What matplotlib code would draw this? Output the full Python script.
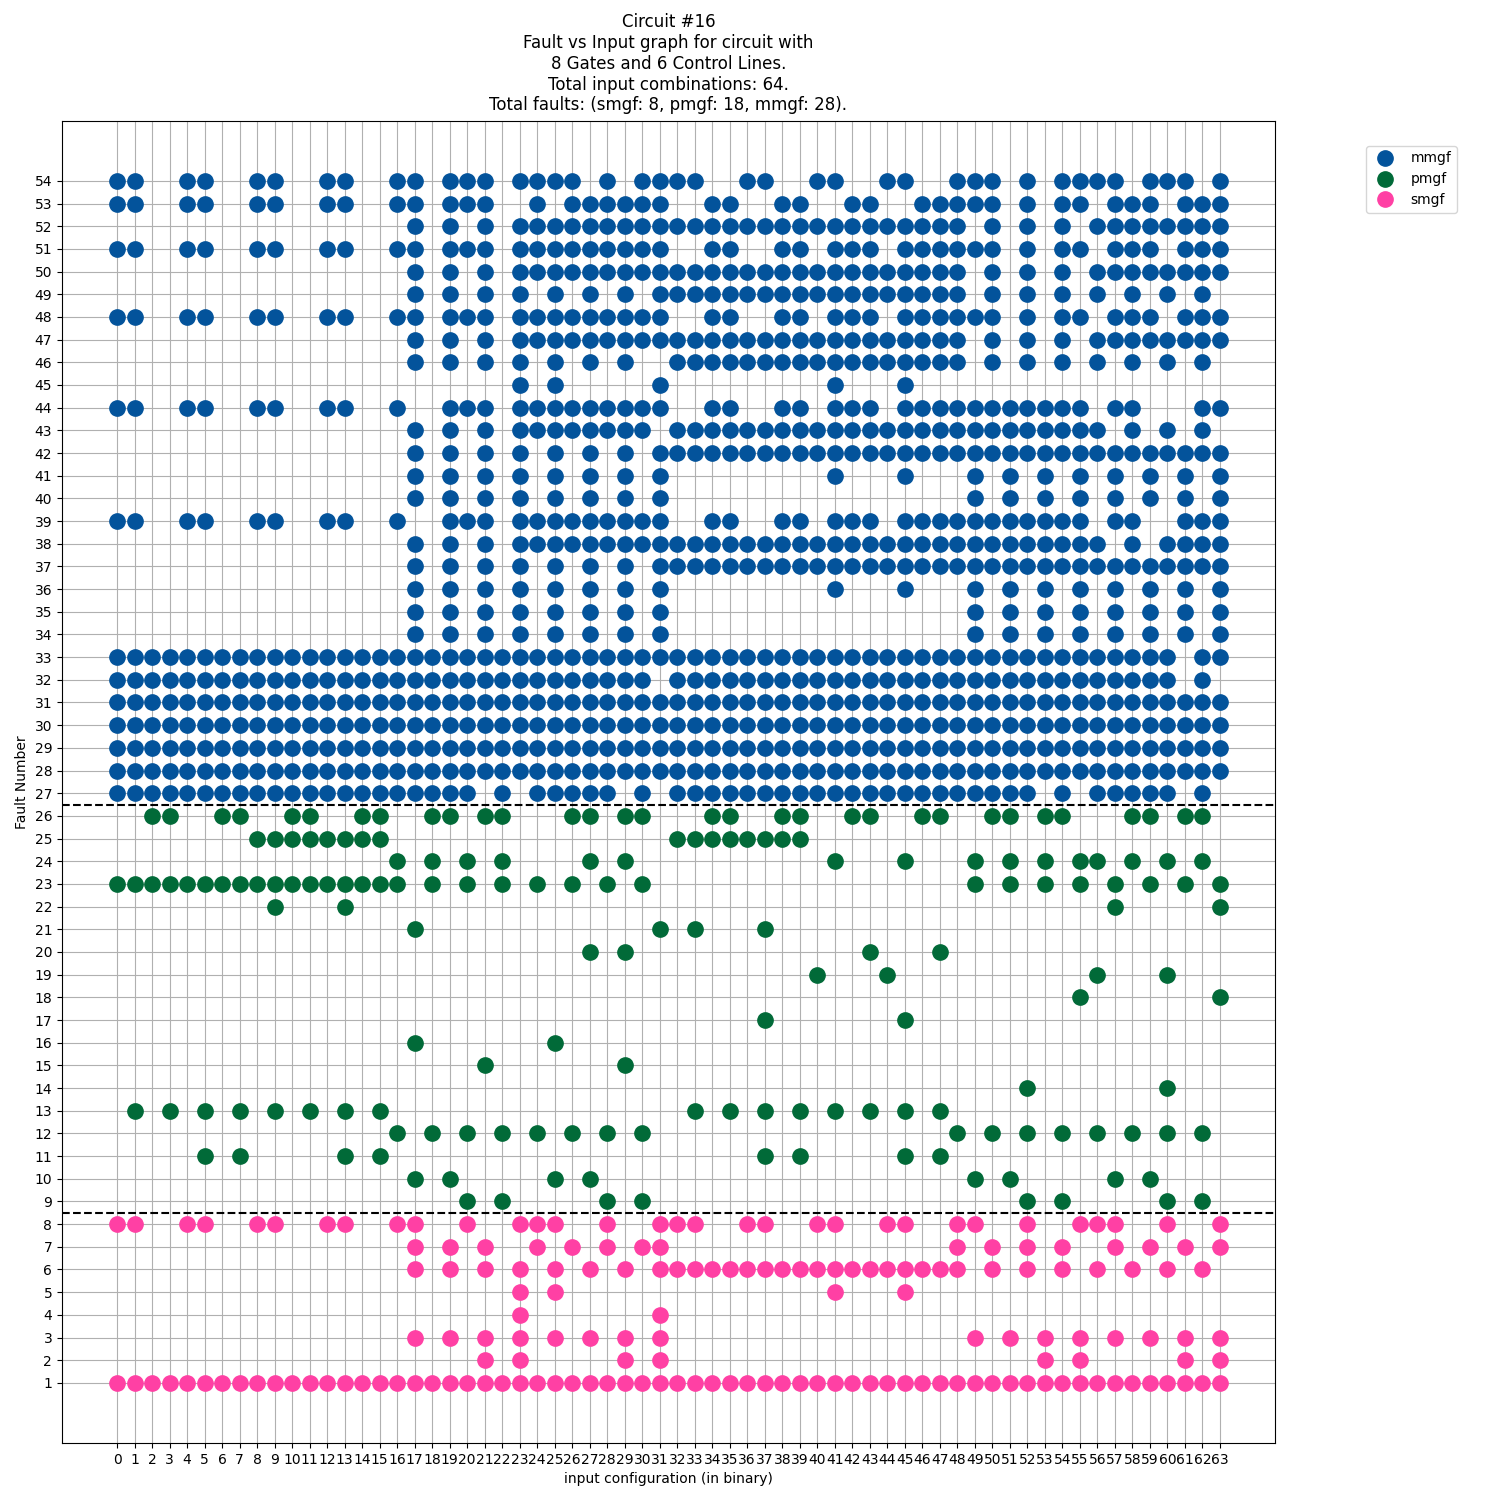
import matplotlib
matplotlib.use("Agg")
import matplotlib.pyplot as plt

# data: for each fault number, the input configurations where it is detected
# *******************
inputs = list(range(64))
faults = list(range(1, 55))

mmgf_faults = [54, 53, 52, 51, 50, 49, 48, 47, 46, 45, 44, 43, 42, 41,
               40, 39, 38, 37, 36, 35, 34, 33, 32, 31, 30, 29, 28, 27]
mmgf_inputs = [
    [0, 1, 4, 5, 8, 9, 12, 13, 16, 17, 19, 20, 21, 23, 24, 25, 26, 28, 30, 31, 32, 33, 36, 37, 40, 41, 44, 45, 48, 49, 50, 52, 54, 55, 56, 57, 59, 60, 61, 63],
    [0, 1, 4, 5, 8, 9, 12, 13, 16, 17, 19, 20, 21, 24, 26, 27, 28, 29, 30, 31, 34, 35, 38, 39, 42, 43, 46, 47, 48, 49, 50, 52, 54, 55, 57, 58, 59, 61, 62, 63],
    [17, 19, 21] + list(range(23, 49)) + [50, 52, 54] + list(range(56, 64)),
    [0, 1, 4, 5, 8, 9, 12, 13, 16, 17, 19, 20, 21] + list(range(23, 32)) + [34, 35, 38, 39, 41, 42, 43, 45, 46, 47, 48, 49, 50, 52, 54, 55, 57, 58, 59, 61, 62, 63],
    [17, 19, 21] + list(range(23, 49)) + [50, 52, 54] + list(range(56, 64)),
    [17, 19, 21, 23, 25, 27, 29] + list(range(31, 49)) + [50, 52, 54, 56, 58, 60, 62],
    [0, 1, 4, 5, 8, 9, 12, 13, 16, 17, 19, 20, 21] + list(range(23, 32)) + [34, 35, 38, 39, 41, 42, 43, 45, 46, 47, 48, 49, 50, 52, 54, 55, 57, 58, 59, 61, 62, 63],
    [17, 19, 21] + list(range(23, 49)) + [50, 52, 54] + list(range(56, 64)),
    [17, 19, 21, 23, 25, 27, 29] + list(range(32, 49)) + [50, 52, 54, 56, 58, 60, 62],
    [23, 25, 31, 41, 45],
    [0, 1, 4, 5, 8, 9, 12, 13, 16, 19, 20, 21] + list(range(23, 32)) + [34, 35, 38, 39, 41, 42, 43] + list(range(45, 56)) + [57, 58, 62, 63],
    [17, 19, 21] + list(range(23, 31)) + list(range(32, 57)) + [58, 60, 62],
    [17, 19, 21, 23, 25, 27, 29] + list(range(31, 64)),
    [17, 19, 21, 23, 25, 27, 29, 31, 41, 45, 49, 51, 53, 55, 57, 59, 61, 63],
    [17, 19, 21, 23, 25, 27, 29, 31, 49, 51, 53, 55, 57, 59, 61, 63],
    [0, 1, 4, 5, 8, 9, 12, 13, 16, 19, 20, 21] + list(range(23, 32)) + [34, 35, 38, 39, 41, 42, 43] + list(range(45, 56)) + [57, 58, 61, 62, 63],
    [17, 19, 21] + list(range(23, 57)) + [58, 60, 61, 62, 63],
    [17, 19, 21, 23, 25, 27, 29] + list(range(31, 64)),
    [17, 19, 21, 23, 25, 27, 29, 31, 41, 45, 49, 51, 53, 55, 57, 59, 61, 63],
    [17, 19, 21, 23, 25, 27, 29, 31, 49, 51, 53, 55, 57, 59, 61, 63],
    [17, 19, 21, 23, 25, 27, 29, 31, 49, 51, 53, 55, 57, 59, 61, 63],
    list(range(0, 61)) + [62, 63],
    list(range(0, 31)) + list(range(32, 61)) + [62],
    list(range(64)),
    list(range(64)),
    list(range(64)),
    list(range(64)),
    list(range(0, 21)) + [22] + list(range(24, 29)) + [30] + list(range(32, 53)) + [54] + list(range(56, 61)) + [62],
]

pmgf_faults = [26, 25, 24, 23, 22, 21, 20, 19, 18, 17, 16, 15, 14, 13, 12, 11, 10, 9]
pmgf_inputs = [
    [2, 3, 6, 7, 10, 11, 14, 15, 18, 19, 21, 22, 26, 27, 29, 30, 34, 35, 38, 39, 42, 43, 46, 47, 50, 51, 53, 54, 58, 59, 61, 62],
    [8, 9, 10, 11, 12, 13, 14, 15, 32, 33, 34, 35, 36, 37, 38, 39],
    [16, 18, 20, 22, 27, 29, 41, 45, 49, 51, 53, 55, 56, 58, 60, 62],
    list(range(0, 16)) + [16, 18, 20, 22, 24, 26, 28, 30, 49, 51, 53, 55, 57, 59, 61, 63],
    [9, 13, 57, 63],
    [17, 31, 33, 37],
    [27, 29, 43, 47],
    [40, 44, 56, 60],
    [55, 63],
    [37, 45],
    [17, 25],
    [21, 29],
    [52, 60],
    [1, 3, 5, 7, 9, 11, 13, 15, 33, 35, 37, 39, 41, 43, 45, 47],
    [16, 18, 20, 22, 24, 26, 28, 30, 48, 50, 52, 54, 56, 58, 60, 62],
    [5, 7, 13, 15, 37, 39, 45, 47],
    [17, 19, 25, 27, 49, 51, 57, 59],
    [20, 22, 28, 30, 52, 54, 60, 62],
]

smgf_faults = [8, 7, 6, 5, 4, 3, 2, 1]
smgf_inputs = [
    [0, 1, 4, 5, 8, 9, 12, 13, 16, 17, 20, 23, 24, 25, 28, 31, 32, 33, 36, 37, 40, 41, 44, 45, 48, 49, 52, 55, 56, 57, 60, 63],
    [17, 19, 21, 24, 26, 28, 30, 31, 48, 50, 52, 54, 57, 59, 61, 63],
    [17, 19, 21, 23, 25, 27, 29] + list(range(31, 49)) + [50, 52, 54, 56, 58, 60, 62],
    [23, 25, 41, 45],
    [23, 31],
    [17, 19, 21, 23, 25, 27, 29, 31, 49, 51, 53, 55, 57, 59, 61, 63],
    [21, 23, 29, 31, 53, 55, 61, 63],
    list(range(64)),
]

series = [
    ("mmgf", mmgf_faults, mmgf_inputs, "#03539b"),
    ("pmgf", pmgf_faults, pmgf_inputs, "#016a38"),
    ("smgf", smgf_faults, smgf_inputs, "#ff40a4"),
]


# Plotting
# ********************
fig = plt.figure(figsize=(15, 15), dpi=100)
ax = fig.add_axes([0.0413, 0.038, 0.8087, 0.8815])

for name, flt, inp, color in series:
    xs, ys = [], []
    for f, row in zip(flt, inp):
        xs += row
        ys += [f] * len(row)
    ax.plot(xs, ys, 'o', color=color, markersize=11, label=name)

# boundaries between the fault classes
ax.axhline(8.5, color='k', linestyle='--', linewidth=1.5)
ax.axhline(26.5, color='k', linestyle='--', linewidth=1.5)

ax.set_xticks(inputs)
ax.set_yticks(faults)
ax.set_xlim(-3.15, 66.15)
ax.set_ylim(-1.65, 56.65)
ax.grid(True)
ax.set_xlabel('input configuration (in binary)')
ax.set_ylabel('Fault Number')
ax.set_title('Circuit #16\nFault vs Input graph for circuit with\n8 Gates and 6 Control Lines.\n'
             'Total input combinations: 64.\nTotal faults: (smgf: 8, pmgf: 18, mmgf: 28).',
             fontsize=12, pad=7.5)
ax.legend(loc='upper left', bbox_to_anchor=(1.075, 0.981), borderaxespad=0)

fig.savefig('out.png', dpi=100)
